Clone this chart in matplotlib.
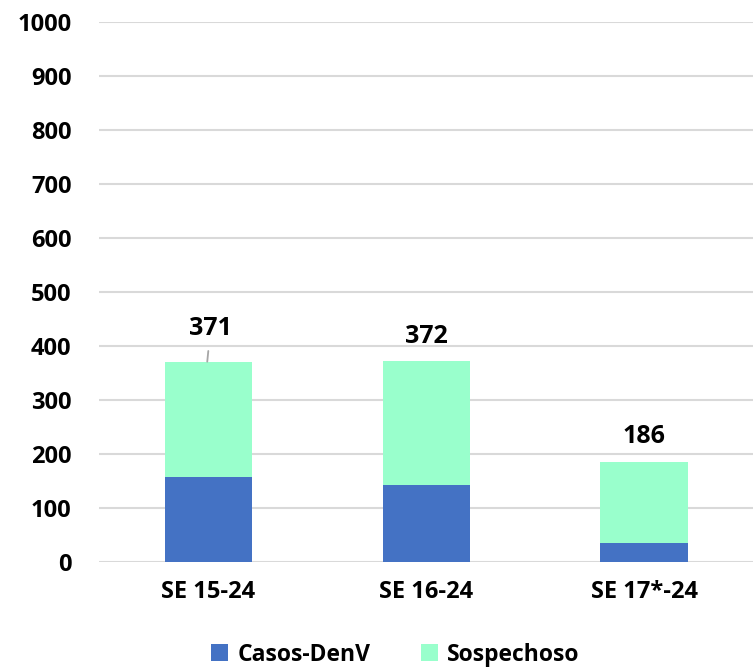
import matplotlib
matplotlib.use("Agg")
import matplotlib.pyplot as plt
import numpy as np

semanas = ["SE 15-24", "SE 16-24", "SE 17*-24"]
casos_denv = [158, 143, 36]
totales = [371, 372, 186]
sospechosos = [t - d for t, d in zip(totales, casos_denv)]

plt.rcParams['font.family'] = ['Open Sans', 'DejaVu Sans']
plt.rcParams['font.weight'] = 'bold'

fig = plt.figure(figsize=(7.53, 6.72), dpi=100)
ax = fig.add_axes([0.132, 0.1637, 0.868, 0.8033])

x = np.arange(len(semanas))
ancho = 0.4
ax.bar(x, casos_denv, ancho, color='#4472c4', label='Casos-DenV', zorder=3)
ax.bar(x, sospechosos, ancho, bottom=casos_denv, color='#99ffcc', label='Sospechoso', zorder=3)

ax.set_ylim(0, 1000)
ax.set_xlim(-0.5, 2.5)
ax.set_yticks(np.arange(0, 1001, 100))
ax.set_xticks(x)
ax.set_xticklabels(semanas)
ax.tick_params(axis='both', length=0, labelsize=17)
ax.tick_params(axis='x', pad=13)
ax.tick_params(axis='y', pad=20)
for lbl in ax.get_yticklabels() + ax.get_xticklabels():
    lbl.set_fontweight('bold')
ax.yaxis.grid(True, color='#d9d9d9', linewidth=1.5, zorder=0)
for s in ax.spines.values():
    s.set_visible(False)

for i, total in enumerate(totales):
    if i == 0:
        ax.annotate(str(total), xy=(i - 0.005, total), xytext=(i + 0.01, total + 61),
                    ha='center', va='center', fontsize=18, fontweight='bold',
                    arrowprops=dict(arrowstyle='-', color='#a6a6a6', lw=1.3,
                                    shrinkA=5, shrinkB=0))
    else:
        ax.text(i, total + 46, str(total), ha='center', va='center',
                fontsize=18, fontweight='bold')

ax.legend(loc='center', bbox_to_anchor=(0.453, -0.172), ncol=2, frameon=False,
          prop={'size': 16.5, 'weight': 'bold'}, handlelength=0.75, handleheight=0.75,
          columnspacing=2.2, handletextpad=0.4, borderpad=0)

fig.savefig("out.png", dpi=100)
